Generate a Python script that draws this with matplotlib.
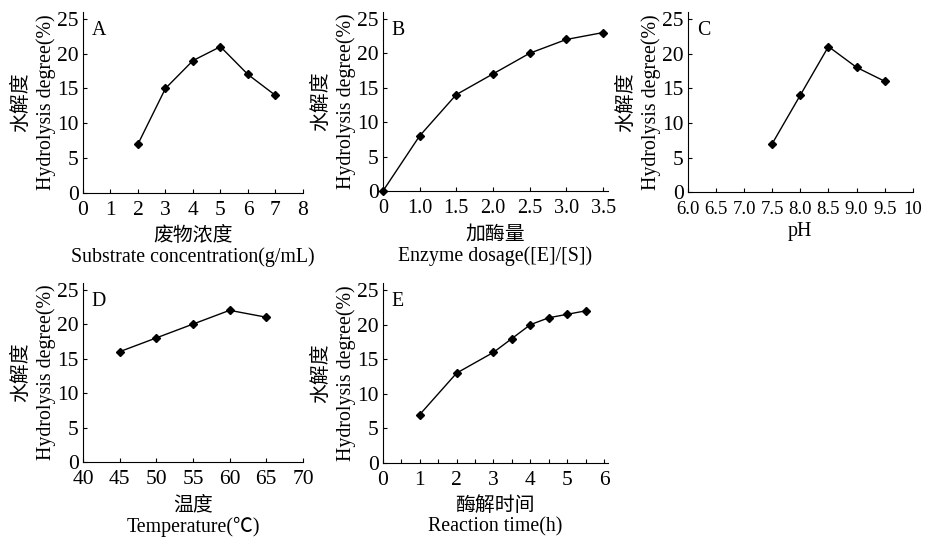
import matplotlib
matplotlib.use("Agg")
import matplotlib.pyplot as plt
import numpy as np

plt.rcParams["font.family"] = ["Liberation Serif", "Noto Sans CJK SC"]

# Panel A: substrate concentration
a_x = [2, 3, 4, 5, 6, 7]
a_y = [7, 15, 19, 21, 17, 14]

# Panel B: enzyme dosage (evenly spaced categories)
b_labels = ["0", "1.0", "1.5", "2.0", "2.5", "3.0", "3.5"]
b_y = [0, 8, 14, 17, 20, 22, 23]

# Panel C: pH
c_x = [7.5, 8.0, 8.5, 9.0, 9.5]
c_y = [7, 14, 21, 18, 16]
c_ticks = [6.0, 6.5, 7.0, 7.5, 8.0, 8.5, 9.0, 9.5, 10]
c_ticklabels = ["6.0", "6.5", "7.0", "7.5", "8.0", "8.5", "9.0", "9.5", "10"]

# Panel D: temperature
d_x = [45, 50, 55, 60, 65]
d_y = [16, 18, 20, 22, 21]

# Panel E: reaction time
e_x = [1, 2, 3, 3.5, 4, 4.5, 5, 5.5]
e_y = [7, 13, 16, 18, 20, 21, 21.5, 22]

ylab = "水解度\nHydrolysis degree(%)"
tick_fs = 15.5
lab_fs = 14.3

fig = plt.figure(figsize=(9.27, 5.4), dpi=100)


def style(ax, letter):
    for s in ["top", "right"]:
        ax.spines[s].set_visible(False)
    ax.set_ylim(0, 26)
    ax.set_yticks([0, 5, 10, 15, 20, 25])
    ax.tick_params(direction="in", length=3, width=0.8, labelsize=tick_fs, pad=3)
    ax.tick_params(axis="x", pad=6)
    ax.set_ylabel(ylab, fontsize=lab_fs, labelpad=1, linespacing=1.3)
    ax.text(0.04, 0.95, letter, transform=ax.transAxes, fontsize=lab_fs,
            va="top", ha="left")


def xlab(ax, text):
    ax.set_xlabel(text, fontsize=lab_fs, linespacing=1.1, labelpad=5)


def draw(ax, x, y):
    ax.plot(x, y, color="black", lw=1.0, marker="D", ms=3.8,
            markerfacecolor="black", clip_on=False)


# A
ax = fig.add_axes([0.0895, 0.643, 0.2373, 0.335])
draw(ax, a_x, a_y)
ax.set_xlim(0, 8)
ax.set_xticks(range(0, 9))
style(ax, "A")
xlab(ax, "废物浓度\nSubstrate concentration(g/mL)")

# B
ax = fig.add_axes([0.413, 0.646, 0.2427, 0.332])
draw(ax, range(len(b_y)), b_y)
ax.set_xlim(0, 6.13)
ax.set_xticks(range(len(b_labels)))
ax.set_xticklabels(b_labels)
style(ax, "B")
ax.tick_params(axis="x", labelsize=14.5)
xlab(ax, "加酶量\nEnzyme dosage([E]/[S])")

# C
ax = fig.add_axes([0.742, 0.644, 0.2427, 0.334])
draw(ax, c_x, c_y)
ax.set_xlim(6, 10)
ax.set_xticks(c_ticks)
ax.set_xticklabels(c_ticklabels)
style(ax, "C")
ax.tick_params(axis="x", labelsize=13.5)
ax.set_xlabel("pH", fontsize=lab_fs, labelpad=3)

# D
ax = fig.add_axes([0.0895, 0.1444, 0.2373, 0.332])
draw(ax, d_x, d_y)
ax.set_xlim(40, 70)
ax.set_xticks(range(40, 71, 5))
style(ax, "D")
xlab(ax, "温度\nTemperature(℃)")

# E
ax = fig.add_axes([0.413, 0.1426, 0.2427, 0.333])
draw(ax, e_x, e_y)
ax.set_xlim(0, 6.1)
ax.set_xticks(range(0, 7))
ax.set_xticks(np.arange(0.5, 6.1, 1.0), minor=True)
style(ax, "E")
ax.tick_params(which="minor", direction="in", length=3, width=0.8)
xlab(ax, "酶解时间\nReaction time(h)")

plt.savefig("out.png", dpi=100)
plt.close()
